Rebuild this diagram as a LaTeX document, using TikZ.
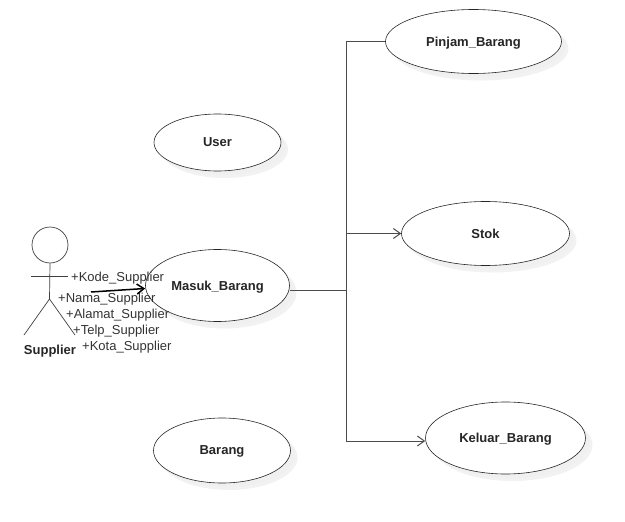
\documentclass[tikz,border=0pt]{standalone}
\usepackage{fontspec}
\setmainfont{Liberation Sans}
\usepackage{xcolor}
\usetikzlibrary{shapes.geometric,positioning,calc,arrows.meta,shadows}

\tikzset{
  usecase/.style={ellipse, draw=black!85, line width=0.6pt, fill=white, inner sep=0pt,
    font=\fontsize{13}{15}\selectfont\bfseries, text=black!85, text depth=0pt,
    general shadow={fill=black!5, shadow xshift=7pt, shadow yshift=-7pt},
    drop shadow={fill=black!6, shadow xshift=4pt, shadow yshift=-4pt, opacity=1}},
  attr/.style={anchor=west, inner sep=0pt, font=\fontsize{13}{15}\selectfont, text=black!80},
  link/.style={draw=black!70, line width=1pt},
  limb/.style={draw=black!75, line width=0.7pt},
  opentip/.style={-{Straight Barb[length=7pt,width=10pt]}}
}

\begin{document}
\begin{tikzpicture}[x=1pt, y=-1pt]
  \useasboundingbox (0,0) rectangle (625,522);

  % use cases
  \node[usecase, minimum width=176pt, minimum height=64pt] (pinjam) at (473.5,41.5) {Pinjam\_Barang};
  \node[usecase, minimum width=168pt, minimum height=64pt] (stok) at (485.5,233.5) {Stok};
  \node[usecase, minimum width=160pt, minimum height=72pt] (keluar) at (505.5,438) {Keluar\_Barang};
  \node[usecase, minimum width=127pt, minimum height=57pt] (user) at (217.5,142.5) {User};
  \node[usecase, minimum width=144pt, minimum height=72pt] (masuk) at (217.5,285.5) {Masuk\_Barang};
  \node[usecase, minimum width=137pt, minimum height=65pt] (barang) at (222,450.5) {Barang};

  % actor
  \node[circle, limb, fill=white, minimum size=36pt, inner sep=0pt] (head) at (50,245) {};
  \coordinate (hip) at (49.5,299);
  \coordinate (armL) at (31,276.5);
  \coordinate (armR) at (68,276.5);
  \coordinate (footL) at (24,335);
  \coordinate (footR) at (75,335);
  \draw[limb] (head.south) -- (hip);
  \draw[limb] (armL) -- (armR);
  \draw[limb] (footL) -- (hip) -- (footR);
  \node[font=\fontsize{13}{15}\selectfont\bfseries, text=black!85, inner sep=0pt] (supplier) at (50,351) {Supplier};

  % attributes
  \node[attr] (kode) at (71,278) {+Kode\_Supplier};
  \node[attr] (nama) at (58,299) {+Nama\_Supplier};
  \node[attr] (alamat) at (66,315) {+Alamat\_Supplier};
  \node[attr] (telp) at (73,331) {+Telp\_Supplier};
  \node[attr] (kota) at (82,347) {+Kota\_Supplier};

  % connectors
  \coordinate (start) at (91,292);
  \coordinate (branch) at (346,290);
  \draw[black, line width=1.5pt, opentip] (start) -- ($(masuk.west)+(0,3)$);
  \draw[link] (masuk.east |- branch) -- (branch);
  \draw[link] (branch) |- (pinjam.west);
  \draw[link, opentip] (branch) |- (stok.west);
  \draw[link, opentip] (branch) |- (keluar.west |- 0,441);
\end{tikzpicture}
\end{document}
